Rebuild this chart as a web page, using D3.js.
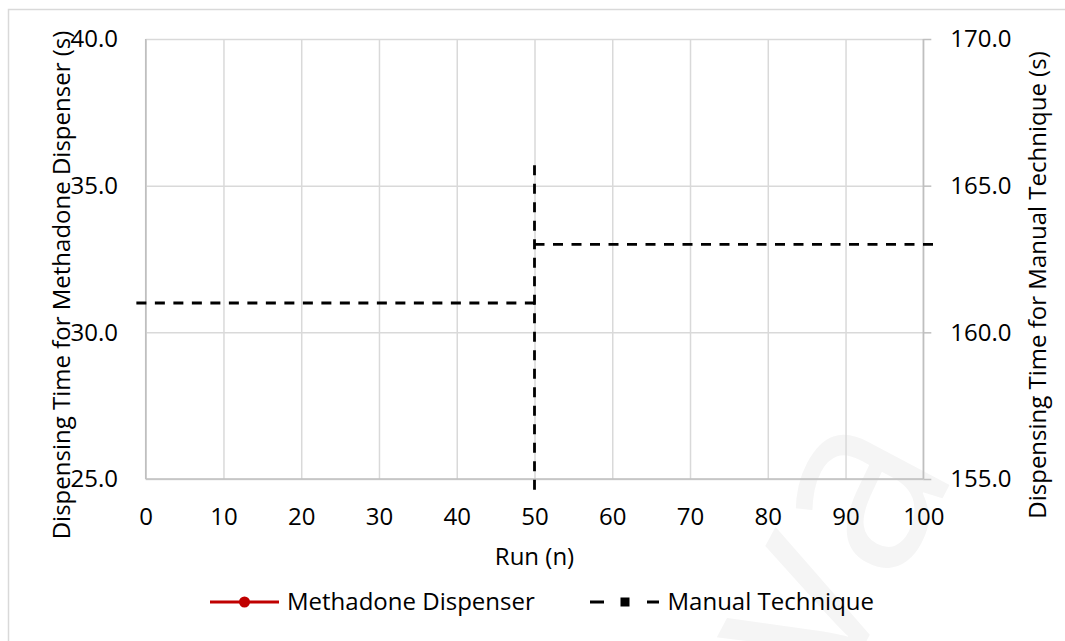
<!DOCTYPE html>
<html>
  <head>
    <meta charset="UTF-8" />
    <style>
      body {
        margin: 0;
        background-color: #ffffff;
      }
      svg {
        font-family: "Open Sans", sans-serif;
      }
      .tick text {
        font-family: "Open Sans", sans-serif;
        font-size: 24px;
        fill: #000000;
      }
      .grid line {
        stroke: #d9d9d9;
        stroke-width: 1.5;
      }
      .axisTitle {
        font-size: 24px;
        fill: #000000;
      }
    </style>
  </head>

  <body>
    <svg id="chart" width="1065" height="641"></svg>

    <script src="https://d3js.org/d3.v7.min.js"></script>
    <script>
      // values
      var runTicks = [0, 10, 20, 30, 40, 50, 60, 70, 80, 90, 100];
      var leftTicks = [25, 30, 35, 40];
      var rightTicks = [155, 160, 165, 170];
      var seriesNames = ["Methadone Dispenser", "Manual Technique"];
      // methadone dispenser points fall outside the shown range
      var methadoneRuns = [];
      var methadoneTimes = [];
      // manual technique, drawn as three dashed pieces on the right axis
      var manualRuns = [[-1.2, 50.6], [50, 50], [50, 101.6]];
      var manualTimes = [[161.0, 161.0], [165.7, 154.6], [163.0, 163.0]];

      const plotLeft = 145.7;
      const plotRight = 923.3;
      const plotTop = 39;
      const plotBottom = 479;
      const width = plotRight - plotLeft;
      const height = plotBottom - plotTop;

      const svg = d3.select("#chart");

      // chart border
      svg
        .append("rect")
        .attr("x", 8.5)
        .attr("y", 9.5)
        .attr("width", 1100)
        .attr("height", 700)
        .attr("fill", "none")
        .attr("stroke", "#d9d9d9")
        .attr("stroke-width", 1.5);

      // faint watermark
      svg
        .append("text")
        .attr("transform", "translate(835,700) rotate(-62)")
        .attr("font-size", 250)
        .attr("font-family", "Open Sans")
        .attr("fill", "#f5f5f5")
        .text("va");

      const chart = svg
        .append("g")
        .attr("transform", `translate(${plotLeft}, ${plotTop})`);

      const xScale = d3.scaleLinear().domain([0, 100]).range([0, width]);
      const yLeft = d3.scaleLinear().domain([25, 40]).range([height, 0]);
      const yRight = d3.scaleLinear().domain([155, 170]).range([height, 0]);

      // grid
      chart
        .append("g")
        .attr("class", "grid")
        .call(d3.axisLeft(yLeft).tickValues(leftTicks).tickSize(-width).tickFormat(""))
        .call((g) => g.select(".domain").remove());

      chart
        .append("g")
        .attr("class", "grid")
        .attr("transform", `translate(0, ${height})`)
        .call(d3.axisBottom(xScale).tickValues(runTicks).tickSize(-height).tickFormat(""))
        .call((g) => g.select(".domain").remove());

      // axis lines
      chart
        .append("line")
        .attr("x1", 0).attr("x2", 0)
        .attr("y1", 0).attr("y2", height)
        .attr("stroke", "#bfbfbf")
        .attr("stroke-width", 1.5);
      chart
        .append("line")
        .attr("x1", width).attr("x2", width)
        .attr("y1", 0).attr("y2", height)
        .attr("stroke", "#bfbfbf")
        .attr("stroke-width", 1.5);
      chart
        .append("line")
        .attr("x1", 0).attr("x2", width)
        .attr("y1", height).attr("y2", height)
        .attr("stroke", "#bfbfbf")
        .attr("stroke-width", 1.5);

      // left axis labels
      chart
        .append("g")
        .call(
          d3.axisLeft(yLeft).tickValues(leftTicks).tickSize(0).tickPadding(27.7)
            .tickFormat(d3.format(".1f"))
        )
        .call((g) => g.select(".domain").remove());

      // right axis
      chart
        .append("g")
        .attr("transform", `translate(${width}, 0)`)
        .call(
          d3.axisRight(yRight).tickValues(rightTicks).tickSize(8).tickPadding(19)
            .tickFormat(d3.format(".1f"))
        )
        .call((g) => g.select(".domain").remove())
        .call((g) => g.selectAll(".tick line").attr("stroke", "#bfbfbf").attr("stroke-width", 1.5));

      // bottom axis labels
      chart
        .append("g")
        .attr("transform", `translate(0, ${height})`)
        .call(d3.axisBottom(xScale).tickValues(runTicks).tickSize(0).tickPadding(28.5))
        .call((g) => g.select(".domain").remove());

      // methadone dispenser series (nothing falls in range)
      const methLine = d3
        .line()
        .x((d, i) => xScale(methadoneRuns[i]))
        .y((d) => yLeft(d));
      if (methadoneTimes.length) {
        chart
          .append("path")
          .attr("d", methLine(methadoneTimes))
          .attr("fill", "none")
          .attr("stroke", "#c00000")
          .attr("stroke-width", 3);
      }

      // manual technique series
      const manualLine = d3
        .line()
        .x((d) => xScale(d[0]))
        .y((d) => yRight(d[1]));
      manualRuns.forEach((runs, k) => {
        const pts = runs.map((r, i) => [r, manualTimes[k][i]]);
        chart
          .append("path")
          .attr("d", manualLine(pts))
          .attr("fill", "none")
          .attr("stroke", "#000000")
          .attr("stroke-width", 2.8)
          .attr("stroke-dasharray", "10,8.5");
      });

      // axis titles
      svg
        .append("text")
        .attr("class", "axisTitle")
        .attr("x", (plotLeft + plotRight) / 2)
        .attr("y", 557)
        .attr("dy", "0.35em")
        .attr("text-anchor", "middle")
        .text("Run (n)");

      svg
        .append("text")
        .attr("class", "axisTitle")
        .attr("transform", "translate(62, 285) rotate(-90)")
        .attr("dy", "0.35em")
        .attr("text-anchor", "middle")
        .text("Dispensing Time for Methadone Dispenser (s)");

      svg
        .append("text")
        .attr("class", "axisTitle")
        .attr("transform", "translate(1038, 285) rotate(-90)")
        .attr("dy", "0.35em")
        .attr("text-anchor", "middle")
        .text("Dispensing Time for Manual Technique (s)");

      // legend
      const legend = svg.append("g").attr("transform", "translate(0, 602)");

      legend
        .append("line")
        .attr("x1", 210).attr("x2", 279)
        .attr("y1", 0).attr("y2", 0)
        .attr("stroke", "#c00000")
        .attr("stroke-width", 3);
      legend
        .append("circle")
        .attr("cx", 244.5)
        .attr("cy", 0)
        .attr("r", 5.5)
        .attr("fill", "#c00000");
      legend
        .append("text")
        .attr("class", "axisTitle")
        .attr("x", 287)
        .attr("dy", "0.35em")
        .text(seriesNames[0]);

      legend
        .append("line")
        .attr("x1", 590).attr("x2", 659)
        .attr("y1", 0).attr("y2", 0)
        .attr("stroke", "#000000")
        .attr("stroke-width", 2.8)
        .attr("stroke-dasharray", "14,43,12");
      legend
        .append("rect")
        .attr("x", 620.5)
        .attr("y", -4.5)
        .attr("width", 9)
        .attr("height", 9)
        .attr("fill", "#000000");
      legend
        .append("text")
        .attr("class", "axisTitle")
        .attr("x", 667.5)
        .attr("dy", "0.35em")
        .text(seriesNames[1]);
    </script>
  </body>
</html>
